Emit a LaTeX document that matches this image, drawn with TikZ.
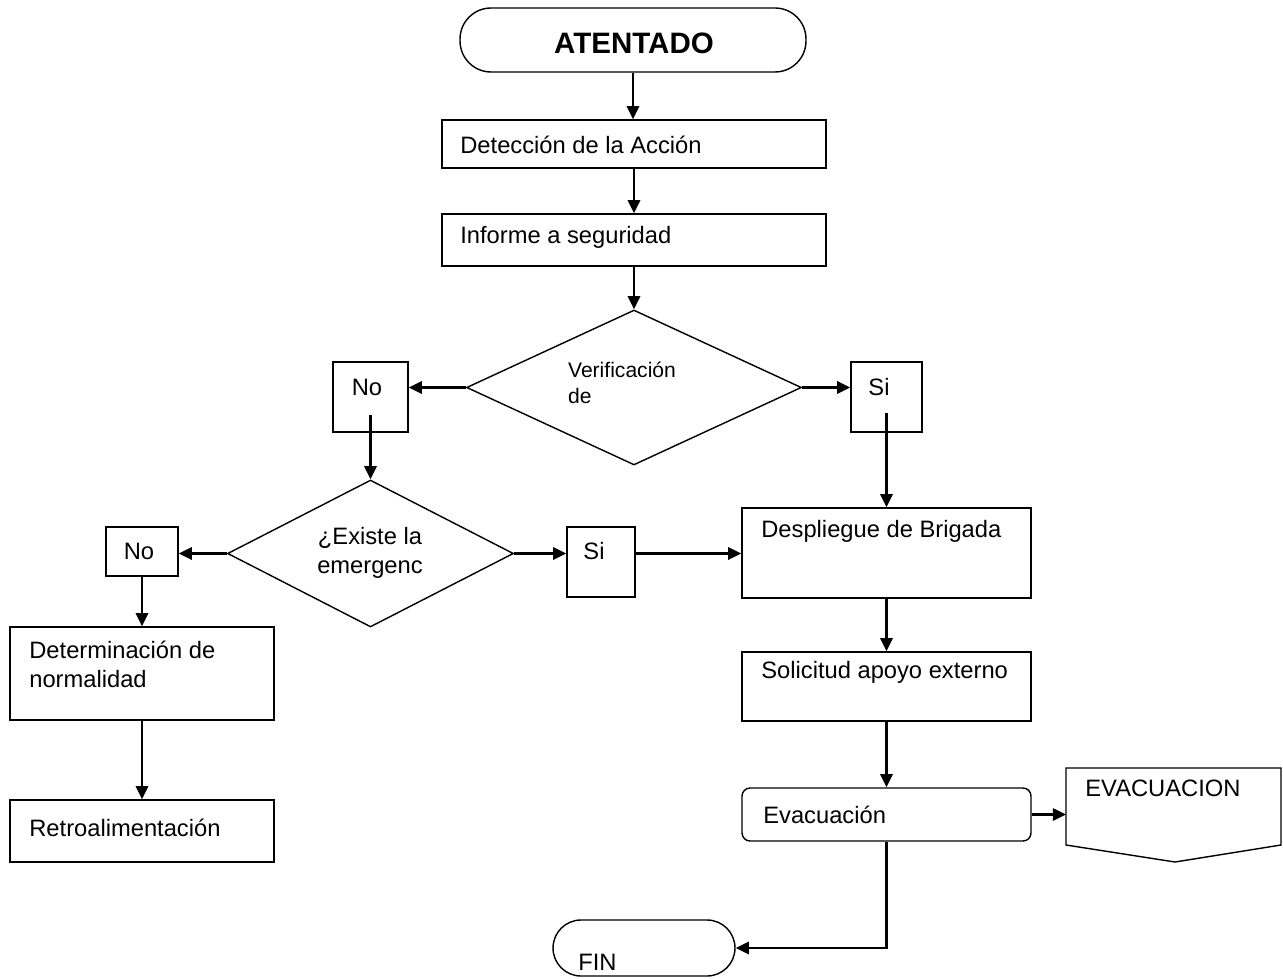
\documentclass[tikz,border=0pt]{standalone}
\usepackage{fontspec}
\setmainfont{Liberation Sans}
\usetikzlibrary{shapes.geometric, arrows.meta, positioning, calc}

\tikzset{
    caja/.style={rectangle,draw,line width=0.8pt,inner sep=0pt},
    terminal/.style={caja,rounded corners=0.62cm},
    decision/.style={diamond,draw,line width=0.8pt,inner sep=0pt},
    texto/.style={font=\fontsize{13.5}{16.5}\selectfont,inner sep=0pt,align=left},
    flecha/.style={line width=1.2pt,-{Triangle[length=7.5pt,width=7pt]}}
}

\begin{document}
\begin{tikzpicture}[x=0.02cm,y=-0.02cm]
    \useasboundingbox (0,0) rectangle (1283,979);

    % Inicio
    \node[terminal,minimum width=6.92cm,minimum height=1.28cm] (ate) at (633,40) {};
    \node[texto,font=\fontsize{16.8}{19}\selectfont\bfseries] at (634,43) {ATENTADO};

    % Cadena central
    \node[caja,minimum width=7.68cm,minimum height=0.96cm] (det) at (634,144) {};
    \node[texto,anchor=west] at (460,145) {Detección de la Acción};

    \node[caja,minimum width=7.68cm,minimum height=1.04cm] (inf) at (634,240) {};
    \node[texto,anchor=west] at (460,237) {Informe a seguridad};

    \node[decision,minimum width=6.7cm,minimum height=3.1cm] (ver) at (634,387.5) {};
    \node[texto,font=\fontsize{12}{14.7}\selectfont] at (622,383) {Verificación\\de};

    \node[caja,minimum width=1.5cm,minimum height=1.4cm] (no1) at (370.5,397) {};
    \node[texto] at (367,387) {No};
    \node[caja,minimum width=1.42cm,minimum height=1.4cm] (si1) at (886.5,397) {};
    \node[texto] at (879,387) {Si};

    % Segunda decision
    \node[decision,minimum width=5.72cm,minimum height=2.94cm] (exi) at (370.5,553.5) {};
    \node[texto,align=center] at (370,553) {¿Existe la\\emergenc};

    \node[caja,minimum width=1.44cm,minimum height=0.98cm] (no2) at (142,551.5) {};
    \node[texto] at (139,551) {No};
    \node[caja,minimum width=1.36cm,minimum height=1.4cm] (si2) at (601,562) {};
    \node[texto] at (594,551) {Si};

    % Rama derecha
    \node[caja,minimum width=5.78cm,minimum height=1.8cm] (des) at (886.5,553) {};
    \node[texto,anchor=west] at (761,531) {Despliegue de Brigada};

    \node[caja,minimum width=5.78cm,minimum height=1.38cm] (sol) at (886.5,686.5) {};
    \node[texto,anchor=west] at (761,672) {Solicitud apoyo externo};

    \node[caja,rounded corners=0.16cm,minimum width=5.78cm,minimum height=1.06cm] (eva) at (886.5,814.5) {};
    \node[texto,anchor=west] at (763,815) {Evacuación};

    % Conector fuera de pagina
    \draw[line width=0.8pt] (1066,768) -- (1281,768) -- (1281,845) -- (1175,862) -- (1066,845) -- cycle;
    \coordinate (evacin) at (eva.east -| 1066,0);
    \node[texto,anchor=west] at (1085,788) {EVACUACION};

    \node[terminal,rounded corners=0.56cm,minimum width=3.64cm,minimum height=1.12cm] (fin) at (644,948) {};
    \node[texto,anchor=west] at (578,962) {FIN};

    % Rama izquierda
    \node[caja,minimum width=5.28cm,minimum height=1.86cm] (nor) at (142,673.5) {};
    \node[texto,anchor=north west] at (29,641) {Determinación de\\normalidad};

    \node[caja,minimum width=5.28cm,minimum height=1.24cm] (ret) at (142,831) {};
    \node[texto,anchor=west] at (29,828) {Retroalimentación};

    % Flechas
    \draw[flecha] (ate.south) -- (ate.south |- det.north);
    \draw[flecha] (det.south) -- (inf.north);
    \draw[flecha] (inf.south) -- (ver.north);
    \draw[flecha] (ver.west) -- (ver.west -| no1.east);
    \draw[flecha] (ver.east) -- (ver.east -| si1.west);
    \draw[flecha] ([yshift=0.36cm]no1.south) -- (exi.north);
    \draw[flecha] (exi.west) -- (exi.west -| no2.east);
    \draw[flecha] (exi.east) -- (exi.east -| si2.west);
    \draw[flecha] (si2.east |- exi.east) -- (des.west |- exi.east);
    \draw[flecha] ([yshift=0.4cm]si1.south) -- (des.north);
    \draw[flecha] (des.south) -- (sol.north);
    \draw[flecha] (sol.south) -- (eva.north);
    \draw[flecha] (eva.east) -- (evacin);
    \draw[flecha] (eva.south) |- (fin.east);
    \draw[flecha] (no2.south) -- (nor.north);
    \draw[flecha] (nor.south) -- (ret.north);
\end{tikzpicture}
\end{document}
